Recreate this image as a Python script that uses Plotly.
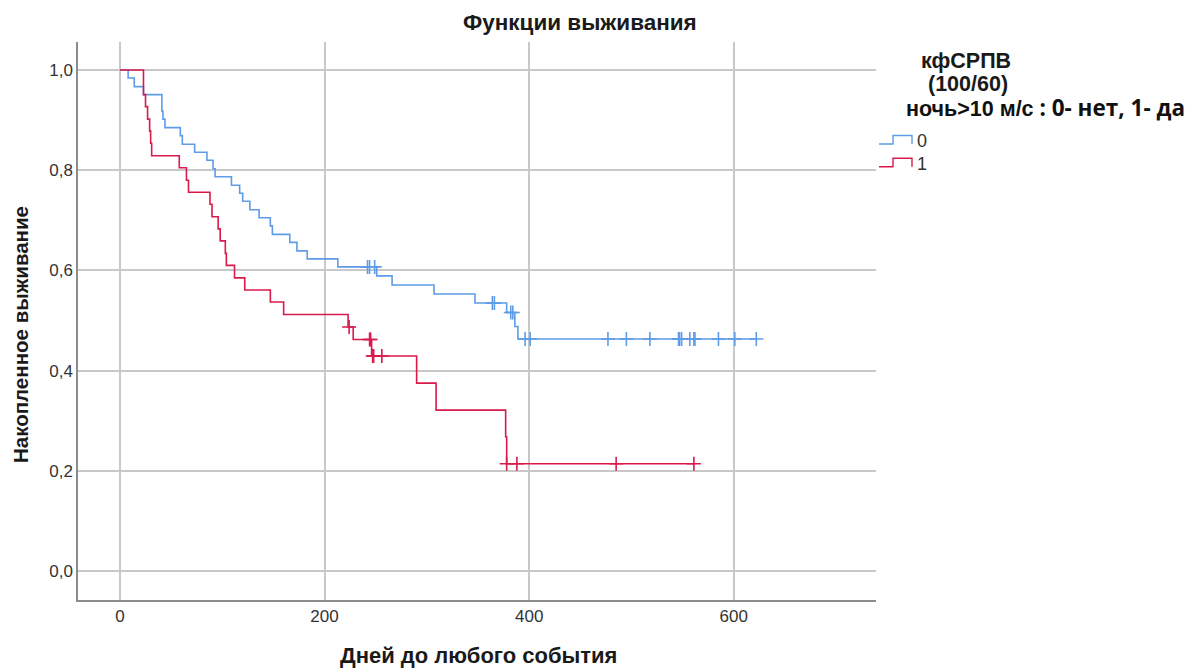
import plotly.graph_objects as go

# ---------------- data ----------------
# group 0 (кфСРПВ ночь>10 м/с: нет) – Kaplan-Meier step points
g0_times = [0, 8, 14, 23, 41, 42, 44, 59, 61, 73, 85, 91, 93, 109, 117, 120, 127,
            136, 147, 149, 166, 173, 183, 213, 251, 266, 307, 347, 378, 386, 389]
g0_surv = [1.0, 0.984, 0.967, 0.951, 0.918, 0.902, 0.885, 0.869, 0.852, 0.836,
           0.820, 0.803, 0.787, 0.770, 0.754, 0.738, 0.721, 0.705, 0.689, 0.672,
           0.656, 0.639, 0.623, 0.607, 0.589, 0.571, 0.553, 0.535, 0.516, 0.488, 0.463]
g0_cens_t = [242, 244, 249, 364, 366, 382, 384, 396, 401, 477, 495, 518, 546, 547,
             549, 557, 561, 562, 585, 601, 622]
g0_cens_s = [0.607, 0.607, 0.607, 0.535, 0.535, 0.516, 0.516, 0.463, 0.463, 0.463,
             0.463, 0.463, 0.463, 0.463, 0.463, 0.463, 0.463, 0.463, 0.463, 0.463, 0.463]

# group 1 (да)
g1_times = [0, 23, 25, 27, 29, 30, 31, 58, 65, 67, 88, 90, 96, 98, 103, 104, 112,
            122, 147, 160, 223, 228, 246, 290, 309, 377, 378]
g1_surv = [1.0, 0.951, 0.927, 0.902, 0.878, 0.854, 0.829, 0.805, 0.780, 0.756,
           0.732, 0.707, 0.683, 0.659, 0.634, 0.610, 0.585, 0.561, 0.537, 0.512,
           0.487, 0.462, 0.429, 0.375, 0.321, 0.268, 0.214]
g1_cens_t = [224, 244, 245, 247, 248, 256, 378, 388, 485, 561]
g1_cens_s = [0.487, 0.462, 0.462, 0.429, 0.429, 0.429, 0.214, 0.214, 0.214, 0.214]

groups = ["0", "1"]
colors = ["#5e9ce8", "#d91a4b"]

title_text = "Функции выживания"
x_title = "Дней до любого события"
y_title = "Накопленное выживание"
legend_lines = ["кфСРПВ", "(100/60)"]
legend_line3a = "ночь>10 м/с"
legend_line3b = " : 0- нет, 1- да"

x_ticks = [0, 200, 400, 600]
y_ticks = [0.0, 0.2, 0.4, 0.6, 0.8, 1.0]

# ---------------- figure ----------------
fig = go.Figure()

series = [(g0_times, g0_surv, g0_cens_t, g0_cens_s),
          (g1_times, g1_surv, g1_cens_t, g1_cens_s)]

for (t, s, ct, cs), col, name in zip(series, colors, groups):
    end_t = max(ct + t)
    fig.add_trace(go.Scatter(
        x=t + [end_t], y=s + [s[-1]], mode="lines", line_shape="hv",
        line=dict(color=col, width=1.6), name=name, showlegend=False,
        hoverinfo="x+y"))
    fig.add_trace(go.Scatter(
        x=ct, y=cs, mode="markers", showlegend=False,
        marker=dict(symbol="cross-thin", size=10, color=col,
                    line=dict(color=col, width=1.6))))

OFF = 8  # page body margin
W, H = 1188, 660
L, T = 78 - OFF, 42 - OFF
R = W - (876 - OFF)
B = H - (600 - OFF)
pw, ph = W - L - R, H - T - B


def px(xp):
    """page pixel x -> paper coordinate"""
    return (xp - OFF - L) / pw


def py(yp):
    """page pixel y -> paper coordinate"""
    return (H - B - (yp - OFF)) / ph


FONT = "Liberation Sans, Arial, sans-serif"

fig.update_layout(
    width=W, height=H,
    margin=dict(l=L, r=R, t=T, b=B),
    paper_bgcolor="white", plot_bgcolor="white",
    separators=", ",
    font=dict(family=FONT, color="#222222", size=16),
    showlegend=False,
)

fig.update_xaxes(
    range=[-41, 739], tickvals=x_ticks, showgrid=True, gridcolor="#c8c8c8",
    gridwidth=1.5, zeroline=False, showline=True, linecolor="#8c8c8c",
    linewidth=1.5, ticks="", tickfont=dict(size=17, color="#333333"),
)
fig.update_yaxes(
    range=[-0.058, 1.056], tickvals=y_ticks, tickformat=".1f", showgrid=True,
    gridcolor="#c8c8c8", gridwidth=1.5, zeroline=False, showline=True,
    linecolor="#8c8c8c", linewidth=1.5, ticks="",
    tickfont=dict(size=17, color="#333333"),
)

# title
fig.add_annotation(xref="paper", yref="paper", x=px(580), y=py(22),
                   text="<b>" + title_text + "</b>", showarrow=False,
                   xanchor="center", yanchor="middle",
                   font=dict(size=22.5, color="#1a1a1a"))
# axis titles
fig.add_annotation(xref="paper", yref="paper", x=px(478), y=py(655),
                   text="<b>" + x_title + "</b>", showarrow=False,
                   xanchor="center", yanchor="middle",
                   font=dict(size=22, color="#1a1a1a"))
fig.add_annotation(xref="paper", yref="paper", x=px(20), y=py(335),
                   text="<b>" + y_title + "</b>", showarrow=False, textangle=-90,
                   xanchor="center", yanchor="middle",
                   font=dict(size=20.5, color="#1a1a1a"))

# legend title
fig.add_annotation(xref="paper", yref="paper", x=px(966), y=py(61),
                   text="<b>" + legend_lines[0] + "</b>", showarrow=False,
                   xanchor="center", yanchor="middle", font=dict(size=21.5, color="#1a1a1a"))
fig.add_annotation(xref="paper", yref="paper", x=px(968), y=py(84),
                   text="<b>" + legend_lines[1] + "</b>", showarrow=False,
                   xanchor="center", yanchor="middle", font=dict(size=21.5, color="#1a1a1a"))
fig.add_annotation(xref="paper", yref="paper", x=px(904), y=py(107),
                   text="<b>" + legend_line3a + "</b><span style='font-family:Open Sans;font-size:22.5px'><b>"
                   + legend_line3b + "</b></span>",
                   showarrow=False, xanchor="left", yanchor="middle",
                   font=dict(size=21.5, color="#111111"))

# legend items (step symbols)
for i, (col, name) in enumerate(zip(colors, groups)):
    base = 144 + i * 22.7
    top = base - 8.5
    path = (f"M {px(879)} {py(base)} L {px(893)} {py(base)} L {px(893)} {py(top)} "
            f"L {px(912)} {py(top)} L {px(912)} {py(base)}")
    fig.add_shape(type="path", xref="paper", yref="paper", path=path,
                  line=dict(color=col, width=1.4))
    fig.add_annotation(xref="paper", yref="paper", x=px(915), y=py(base - 3),
                       text=name, showarrow=False, xanchor="left", yanchor="middle",
                       font=dict(size=18, color="#333333"))

fig.write_html("out.html")
